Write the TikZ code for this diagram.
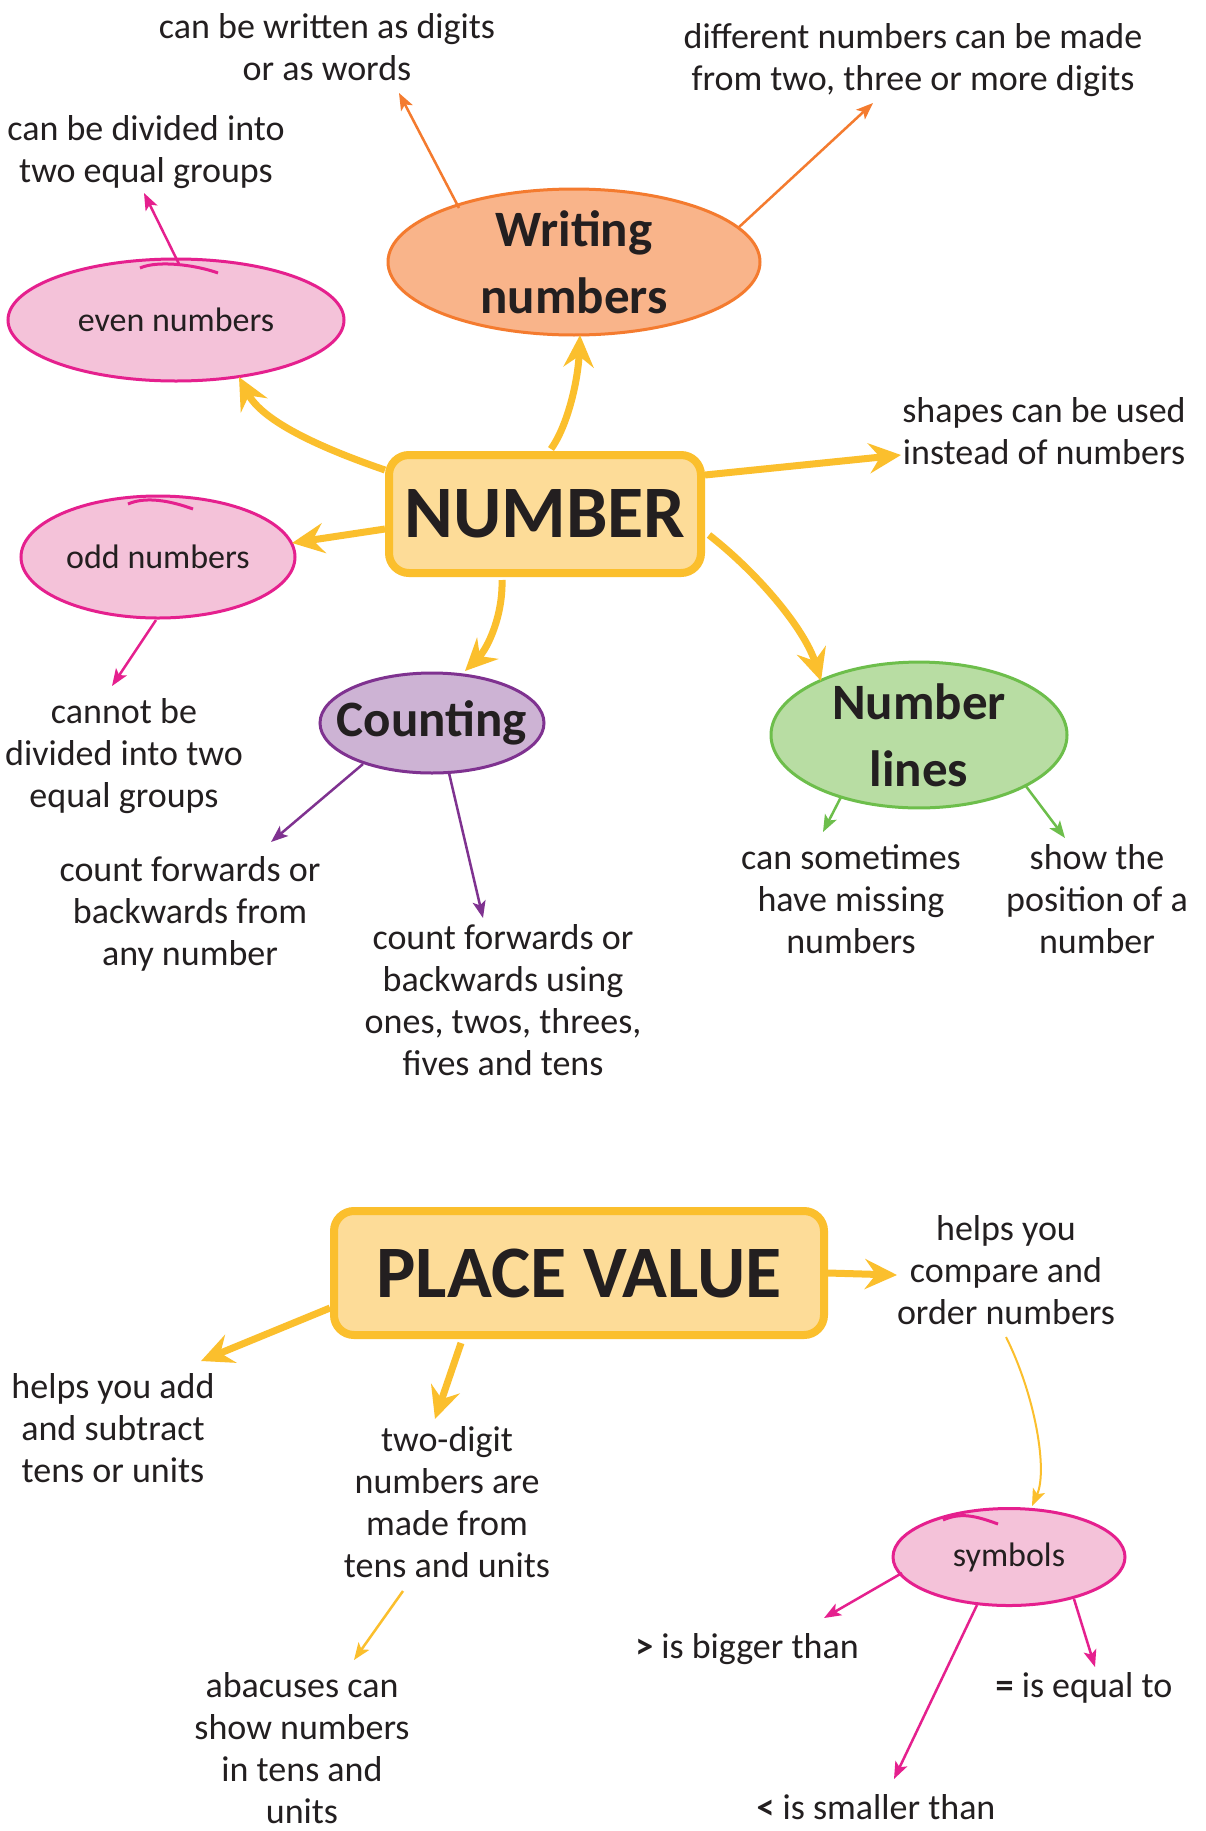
\documentclass[tikz,border=0pt]{standalone}
\usepackage{fontspec}
\setmainfont{Carlito}
\usetikzlibrary{arrows.meta,shapes.geometric,calc}
\definecolor{yel}{HTML}{FBBF2D}
\definecolor{boxfill}{HTML}{FDDC98}
\definecolor{orgfill}{HTML}{F9B48A}
\definecolor{orgline}{HTML}{F47B2F}
\definecolor{pkfill}{HTML}{F4C2D9}
\definecolor{pkline}{HTML}{E5208E}
\definecolor{pufill}{HTML}{CDB3D4}
\definecolor{puline}{HTML}{7F3290}
\definecolor{grfill}{HTML}{B8DDA3}
\definecolor{grline}{HTML}{6DBE4B}
\definecolor{ink}{HTML}{231F20}
\newcommand{\zw}[1]{\makebox[0pt]{#1}}
\begin{document}
\begin{tikzpicture}[x=1pt,y=-1pt,
  lbl/.style={align=center,text=ink,inner sep=0pt,font=\fontsize{36}{42}\selectfont},
  ell/.style={ellipse,inner sep=0pt,line width=3pt,align=center,text=ink},
  smallell/.style={ell,font=\fontsize{34}{40}\selectfont},
  titleell/.style={ell,font=\fontsize{51}{67}\selectfont\bfseries},
  mainbox/.style={rectangle,rounded corners=20pt,line width=8pt,draw=yel,fill=boxfill,text=ink,inner sep=0pt,font=\fontsize{74}{80}\selectfont\bfseries},
  bigarrow/.style={draw=yel,line width=7pt,-{Stealth[length=32pt,width=30pt,inset=11pt]}},
  thinarrow/.style={line width=2.5pt,-{Stealth[length=17pt,width=13pt,inset=4pt]}},
  penmark/.style={line width=3pt,draw=pkline}]
\useasboundingbox (0,0) rectangle (1206,1831);
\fill[white] (0,0) rectangle (1206,1831);

% ---------- text labels (top) ----------
\node[lbl] (digits) at (327,47) {can be written as digits\\or as words};
\node[lbl] (diff) at (913,60.5) {different numbers can be made\\from two, three or more digits};
\node[lbl] (divided) at (146,152.5) {can be divided into\\two equal groups};
\node[lbl] (shapes) at (1044,431.5) {shapes can be used\\instead of numbers};
\node[lbl] (cannot) at (124,756.5) {cannot be\\divided into two\\equal groups};
\node[lbl] (cfwdfrom) at (190,913.5) {count forwards or\\backwards from\\any number};
\node[lbl] (cfwdusing) at (503,1000) {count forwards or\\backwards using\\ones, twos, threes,\\fives and tens};
\node[lbl] (sometimes) at (851,899.5) {can sometimes\\have missing\\numbers};
\node[lbl] (showpos) at (1097,899.5) {show the\\position of a\\number};

% ---------- shapes (top) ----------
\node[mainbox,minimum width=312pt,minimum height=118pt] (num) at (545,514) {NUMBER};
\node[titleell,fill=orgfill,draw=orgline,minimum width=372pt,minimum height=136pt] (wr) at (574,262) {\zw{Writing}\\\zw{numbers}};
\node[smallell,fill=pkfill,draw=pkline,minimum width=336pt,minimum height=122pt] (even) at (176,320) {\zw{even numbers}};
\node[smallell,fill=pkfill,draw=pkline,minimum width=274pt,minimum height=122pt] (odd) at (158,557) {\zw{odd numbers}};
\node[titleell,fill=pufill,draw=puline,minimum width=224pt,minimum height=100pt] (count) at (432,723) {\zw{Counting}};
\node[titleell,fill=grfill,draw=grline,minimum width=296pt,minimum height=140pt] (nl) at (919,735) {\zw{Number}\\\zw{lines}};

% hand-drawn overlaps on pink ellipses
\draw[penmark] ($(even)+(-36,-52)$) .. controls +(18,-8) and +(-22,-8) .. ($(even)+(42,-47)$);
\draw[penmark] ($(odd)+(-30,-53)$) .. controls +(18,-8) and +(-22,-8) .. ($(odd)+(35,-48)$);

% ---------- thick yellow arrows ----------
\draw[bigarrow] ($(num)+(-160,-44)$) .. controls +(-70,-24) and +(23,43) .. ($(even)+(63,57)$);
\draw[bigarrow] ($(num)+(6,-65)$) .. controls +(17,-24) and +(-2,45) .. ($(wr)+(6,73)$);
\draw[bigarrow] ($(num)+(160,-39)$) -- ($(shapes)+(-143,23.5)$);
\draw[bigarrow] ($(num)+(-160,15)$) -- ($(odd)+(134,-14)$);
\draw[bigarrow] ($(num)+(-43,66)$) .. controls +(1,35) and +(23,-23) .. ($(count)+(33,-52)$);
\draw[bigarrow] ($(num)+(164,21)$) .. controls +(51,40) and +(-16,-51) .. ($(nl)+(-98,-54)$);

% ---------- thin arrows (top) ----------
\draw[thinarrow,draw=orgline] ($(wr)+(-115,-54)$) -- ($(digits)+(72,46)$);
\draw[thinarrow,draw=orgline] ($(wr)+(164,-34)$) -- ($(diff)+(-40,42.5)$);
\draw[thinarrow,draw=pkline] ($(even)+(3,-56)$) -- ($(divided)+(-2,40.5)$);
\draw[thinarrow,draw=pkline] ($(odd)+(-2,63)$) -- ($(cannot)+(-12,-70.5)$);
\draw[thinarrow,draw=puline] ($(count)+(-69,41)$) -- ($(cfwdfrom)+(81,-71.5)$);
\draw[thinarrow,draw=puline] ($(count)+(17,50)$) -- ($(cfwdusing)+(-20,-82)$);
\draw[thinarrow,draw=grline] ($(nl)+(-78,62)$) -- ($(sometimes)+(-28,-67.5)$);
\draw[thinarrow,draw=grline] ($(nl)+(106,50)$) -- ($(showpos)+(-32,-61.5)$);

% ---------- bottom part ----------
\node[lbl] (helpsadd) at (113,1428) {helps you add\\and subtract\\tens or units};
\node[lbl] (twodigit) at (447,1502.5) {two-digit\\numbers are\\made from\\tens and units};
\node[lbl] (abacus) at (302,1748) {abacuses can\\show numbers\\in tens and\\units};
\node[lbl] (compare) at (1006,1270.5) {helps you\\compare and\\order numbers};
\node[lbl] (bigger) at (747,1649) {{\bfseries >} is bigger than};
\node[lbl] (equal) at (1084,1688) {{\bfseries =} is equal to};
\node[lbl] (smaller) at (876,1807) {{\bfseries <} is smaller than};

\node[mainbox,minimum width=490pt,minimum height=124pt] (pv) at (579,1273) {PLACE VALUE};
\node[smallell,fill=pkfill,draw=pkline,minimum width=232pt,minimum height=97pt] (sym) at (1009,1557) {\zw{symbols}};
\draw[penmark] ($(sym)+(-66,-37)$) .. controls +(18,-8) and +(-22,-8) .. ($(sym)+(-11,-33)$);

\draw[bigarrow] ($(pv)+(-249,35)$) -- ($(helpsadd)+(88,-67)$);
\draw[bigarrow] ($(pv)+(-118,70)$) -- ($(twodigit)+(-12,-83.5)$);
\draw[bigarrow] ($(pv)+(249,0)$) -- ($(compare)+(-109,4.5)$);

\draw[thinarrow,draw=yel] ($(twodigit)+(-44,88.5)$) -- ($(abacus)+(52,-88)$);
\draw[thinarrow,draw=yel,line width=2pt] ($(compare)+(0,66.5)$) .. controls +(29,58) and +(16,-36) .. ($(sym)+(23,-51)$);
\draw[thinarrow,draw=pkline] ($(sym)+(-107,16)$) -- ($(bigger)+(77,-31)$);
\draw[thinarrow,draw=pkline] ($(sym)+(-32,48)$) -- ($(smaller)+(18,-28)$);
\draw[thinarrow,draw=pkline] ($(sym)+(65,42)$) -- ($(equal)+(11,-21)$);
\end{tikzpicture}
\end{document}
